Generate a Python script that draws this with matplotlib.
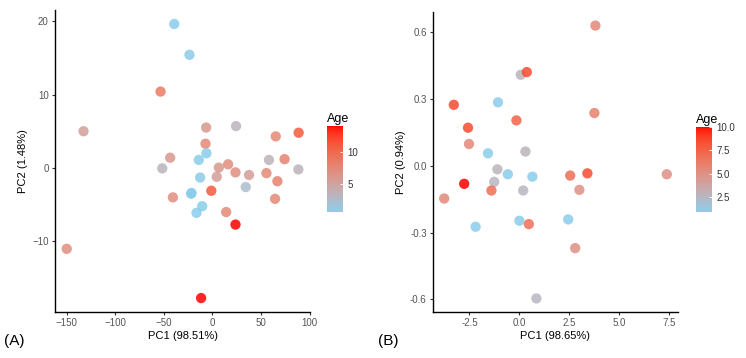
import numpy as np
import matplotlib
matplotlib.use("Agg")
from matplotlib import pyplot as plt
from matplotlib.colors import ListedColormap, Normalize
import matplotlib.cm as cm

plt.rcParams['font.family'] = ['Liberation Sans', 'DejaVu Sans']

# ---- panel A data ----
pc1_a = [-39.4, -23.7, -53.5, -132.9, -6.5, 24.3, 65.2, 88.8, -7.2, -6.2,
         -43.6, -14.1, 16.1, 6.5, 58.2, 74.3, -51.8, -12.7, 4.4, 23.7,
         37.7, 55.6, 66.9, 88.5, -21.6, -22.0, -1.2, 34.3, -40.8, -10.6,
         -16.5, 14.1, 23.7, 64.5, -150.2, -11.7]
pc2_a = [19.6, 15.4, 10.4, 5.0, 5.5, 5.7, 4.3, 4.8, 3.3, 2.0,
         1.4, 1.1, 0.5, 0.05, 1.1, 1.2, -0.05, -1.3, -1.2, -0.6,
         -0.95, -0.7, -1.8, -0.2, -3.4, -3.5, -3.1, -2.6, -4.0, -5.2,
         -6.1, -6.0, -7.7, -4.2, -11.0, -17.7]
age_a = [0.8, 0.9, 8.5, 5.5, 6.0, 3.5, 7.5, 11.0, 7.5, 0.8,
         6.0, 0.8, 7.0, 6.0, 3.5, 8.0, 3.5, 0.9, 5.5, 7.0,
         5.5, 7.5, 8.0, 3.5, 0.8, 0.8, 11.0, 2.5, 7.0, 0.8,
         0.8, 7.5, 14.0, 7.5, 7.0, 14.0]

# ---- panel B data ----
pc1_b = [3.80, 0.07, 0.37, -3.28, -1.07, -0.15, 3.75, -2.57, -2.52, -1.57,
         0.30, -1.10, -0.58, 0.65, -1.26, -2.76, -1.40, 0.19, 2.54, 3.40,
         3.00, 7.37, -3.76, -2.19, 0.00, 0.47, 2.44, 2.79, 0.85]
pc2_b = [0.630, 0.409, 0.421, 0.274, 0.285, 0.204, 0.237, 0.171, 0.098, 0.056,
         0.064, -0.016, -0.038, -0.049, -0.072, -0.081, -0.111, -0.111, -0.044, -0.034,
         -0.108, -0.038, -0.147, -0.274, -0.247, -0.262, -0.241, -0.370, -0.596]
age_b = [5.5, 2.8, 8.5, 8.5, 1.0, 7.5, 6.0, 8.5, 5.5, 1.0,
         2.8, 2.8, 1.0, 1.0, 2.6, 10.0, 7.0, 2.6, 7.0, 8.5,
         5.0, 5.0, 5.5, 1.0, 1.0, 7.0, 1.0, 5.0, 2.5]


# ggplot style gradient: skyblue -> red, interpolated in Lab
def srgb_to_lab(rgb):
    c = np.asarray(rgb, float)
    lin = np.where(c <= 0.04045, c / 12.92, ((c + 0.055) / 1.055) ** 2.4)
    M = np.array([[0.4124, 0.3576, 0.1805],
                  [0.2126, 0.7152, 0.0722],
                  [0.0193, 0.1192, 0.9505]])
    xyz = M @ lin / np.array([0.95047, 1.0, 1.08883])
    f = np.where(xyz > 0.008856, np.cbrt(xyz), 7.787 * xyz + 16 / 116)
    return np.array([116 * f[1] - 16, 500 * (f[0] - f[1]), 200 * (f[1] - f[2])])


def lab_to_srgb(lab):
    L, a, b = lab
    fy = (L + 16) / 116
    fx = fy + a / 500
    fz = fy - b / 200
    f = np.array([fx, fy, fz])
    xyz = np.where(f ** 3 > 0.008856, f ** 3, (f - 16 / 116) / 7.787)
    xyz = xyz * np.array([0.95047, 1.0, 1.08883])
    Minv = np.array([[3.2406, -1.5372, -0.4986],
                     [-0.9689, 1.8758, 0.0415],
                     [0.0557, -0.2040, 1.0570]])
    lin = np.clip(Minv @ xyz, 0, 1)
    c = np.where(lin <= 0.0031308, 12.92 * lin, 1.055 * lin ** (1 / 2.4) - 0.055)
    return np.clip(c, 0, 1)


lo = srgb_to_lab([0x87 / 255, 0xCE / 255, 0xEB / 255])
hi = srgb_to_lab([1.0, 0.0, 0.0])
cols = [lab_to_srgb(lo + (hi - lo) * t) for t in np.linspace(0, 1, 256)]
cmap = ListedColormap(cols)

fig = plt.figure(figsize=(7.46, 3.58), dpi=100)

W, H = 746, 358


def ax_px(l, t, r, b):
    return [l / W, 1 - b / H, (r - l) / W, (b - t) / H]


def style(ax):
    for s in ['top', 'right']:
        ax.spines[s].set_visible(False)
    for s in ['left', 'bottom']:
        ax.spines[s].set_linewidth(1.0)
        ax.spines[s].set_color('black')
    ax.tick_params(labelsize=7, labelcolor='#555555', color='#333333',
                   length=2.5, width=0.8, pad=2)


def panel(rect, crect, x, y, age, vmin, vmax, xl, yl, xt, yt, xlabel, ylabel, cticks, tag, tagx):
    ax = fig.add_axes(ax_px(*rect))
    norm = Normalize(vmin, vmax)
    ax.scatter(x, y, c=age, cmap=cmap, norm=norm, s=55, alpha=0.85,
               edgecolors='none')
    ax.set_xlim(xl)
    ax.set_ylim(yl)
    ax.set_xticks(xt)
    ax.set_yticks(yt)
    style(ax)
    ax.set_xlabel(xlabel, fontsize=8, labelpad=2)
    ax.set_ylabel(ylabel, fontsize=8, labelpad=3)

    cax = fig.add_axes(ax_px(*crect))
    cb = fig.colorbar(cm.ScalarMappable(norm=norm, cmap=cmap), cax=cax)
    cb.set_ticks(cticks)
    cb.outline.set_visible(False)
    cax.tick_params(labelsize=7, labelcolor='#333333', color='white',
                    direction='in', length=2.5, width=0.6, pad=3)
    cax.set_title('Age', fontsize=9, loc='left', pad=3)
    fig.text(tagx / W, 1 - 341 / H, tag, fontsize=11, va='center', ha='left')
    return ax


panel((55, 10, 310, 312), (327, 126, 343, 212), pc1_a, pc2_a, age_a, 0.7, 14.0,
      (-162.3, 100.5), (-19.6, 21.5), [-150, -100, -50, 0, 50, 100], [-10, 0, 10, 20],
      'PC1 (98.51%)', 'PC2 (1.48%)', [5, 10], '(A)', 4)

panel((433, 12, 678, 312), (696, 127, 712, 212), pc1_b, pc2_b, age_b, 0.9, 10.0,
      (-4.32, 7.93), (-0.657, 0.691), [-2.5, 0.0, 2.5, 5.0, 7.5], [-0.6, -0.3, 0.0, 0.3, 0.6],
      'PC1 (98.65%)', 'PC2 (0.94%)', [2.5, 5.0, 7.5, 10.0], '(B)', 378)

fig.axes[2].xaxis.set_major_formatter(matplotlib.ticker.FormatStrFormatter('%.1f'))
fig.axes[2].yaxis.set_major_formatter(matplotlib.ticker.FormatStrFormatter('%.1f'))
fig.axes[3].yaxis.set_major_formatter(matplotlib.ticker.FormatStrFormatter('%.1f'))

fig.savefig('out.png', dpi=100)
